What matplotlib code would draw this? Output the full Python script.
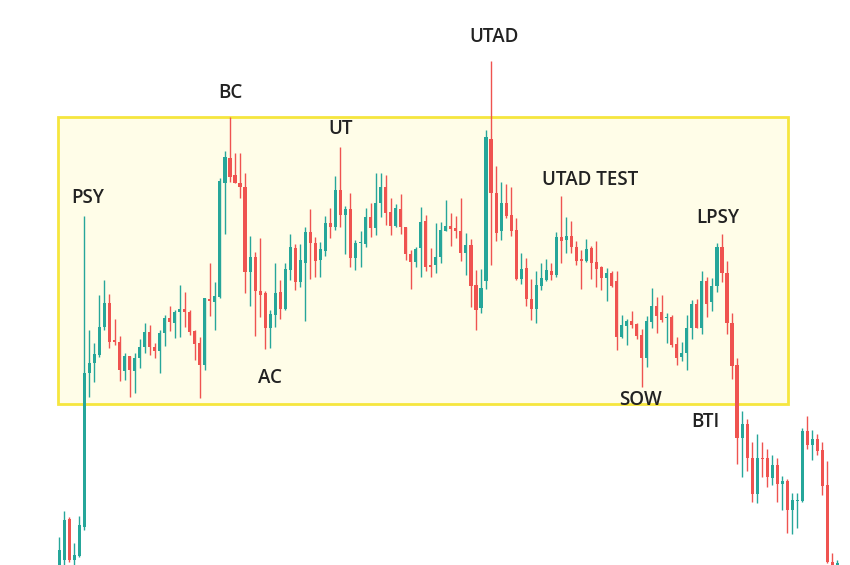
import numpy as np
import matplotlib.pyplot as plt
from matplotlib.patches import Rectangle

# ── OHLC data (arbitrary price units) ─────────────────────────────────────────
opens = [95, 105, 146, 105, 109, 138, 292, 302, 310, 338, 362, 325, 323, 294, 309, 294, 307, 318, 333, 318,
         314, 332, 347, 342, 353, 356, 353, 334, 322, 300, 366, 363, 368, 482, 507, 490, 482, 478, 393, 408,
         374, 372, 337, 350, 373, 356, 395, 417, 383, 402, 433, 422, 405, 414, 442, 438, 475, 450, 456, 407,
         422, 421, 448, 437, 462, 478, 453, 439, 456, 438, 411, 403, 417, 444, 400, 400, 408, 434, 439, 437,
         434, 412, 420, 380, 357, 384, 526, 472, 434, 462, 450, 435, 386, 397, 366, 356, 379, 385, 394, 390,
         428, 425, 429, 418, 406, 404, 417, 403, 398, 387, 392, 384, 328, 339, 344, 341, 330, 307, 343, 359,
         353, 347, 348, 321, 308, 312, 337, 361, 337, 384, 363, 379, 418, 392, 342, 300, 227, 241, 207, 171,
         207, 207, 187, 200, 181, 184, 155, 164, 164, 234, 220, 226, 215, 180, 103, 95]
highs = [128, 154, 148, 122, 149, 449, 335, 322, 370, 385, 371, 346, 329, 312, 309, 312, 326, 342, 340, 322,
         335, 350, 359, 355, 380, 373, 355, 335, 328, 367, 402, 383, 487, 514, 548, 512, 512, 492, 429, 413,
         427, 374, 355, 402, 385, 402, 431, 421, 421, 438, 456, 428, 423, 449, 457, 489, 518, 459, 472, 425,
         434, 457, 462, 492, 492, 490, 467, 461, 471, 438, 415, 418, 458, 450, 417, 442, 443, 465, 452, 449,
         467, 432, 426, 395, 396, 535, 604, 499, 483, 481, 478, 447, 412, 407, 386, 394, 402, 406, 402, 433,
         469, 448, 444, 424, 415, 426, 419, 424, 399, 397, 394, 394, 350, 346, 354, 342, 336, 349, 377, 368,
         370, 352, 350, 328, 323, 350, 365, 366, 394, 388, 387, 422, 431, 404, 352, 307, 254, 246, 223, 231,
         223, 216, 210, 207, 189, 186, 172, 172, 237, 249, 235, 231, 223, 204, 112, 105]
lows = [90, 100, 103, 99, 108, 135, 268, 283, 308, 335, 317, 320, 284, 285, 268, 272, 297, 312, 310, 307,
        292, 319, 334, 327, 328, 338, 330, 305, 267, 295, 349, 335, 367, 431, 483, 482, 467, 372, 359, 329,
        348, 316, 317, 338, 346, 355, 385, 375, 378, 344, 386, 388, 388, 409, 427, 435, 438, 411, 398, 395,
        398, 418, 428, 430, 448, 440, 430, 438, 431, 405, 376, 398, 388, 394, 388, 392, 402, 434, 419, 427,
        404, 390, 358, 335, 352, 376, 400, 424, 425, 447, 429, 385, 381, 359, 345, 342, 375, 384, 385, 388,
        402, 412, 412, 400, 376, 403, 386, 378, 375, 364, 378, 315, 327, 320, 337, 326, 278, 298, 337, 332,
        343, 322, 318, 300, 304, 295, 326, 337, 331, 348, 354, 373, 383, 331, 286, 201, 188, 194, 163, 162,
        188, 178, 180, 163, 155, 132, 131, 137, 163, 216, 205, 210, 170, 102, 95, 93]
closes = [115, 145, 105, 110, 140, 292, 302, 311, 338, 362, 323, 323, 295, 309, 295, 307, 318, 333, 318, 314,
          332, 347, 343, 353, 356, 353, 333, 321, 300, 367, 364, 369, 484, 508, 488, 482, 478, 393, 408, 374,
          370, 337, 351, 372, 356, 396, 418, 383, 405, 433, 422, 404, 416, 442, 438, 475, 450, 456, 407, 422,
          423, 448, 437, 462, 478, 452, 439, 457, 438, 411, 403, 416, 443, 398, 398, 408, 435, 439, 436, 434,
          412, 420, 379, 355, 377, 528, 472, 432, 462, 449, 434, 386, 396, 366, 356, 380, 387, 395, 390, 428,
          424, 429, 418, 404, 404, 416, 402, 396, 387, 392, 379, 328, 340, 344, 340, 329, 307, 344, 359, 349,
          345, 348, 320, 307, 312, 337, 361, 337, 384, 361, 379, 418, 392, 342, 299, 227, 241, 207, 171, 207,
          206, 188, 200, 181, 184, 155, 165, 165, 234, 220, 226, 214, 179, 103, 99, 102]

# Wyckoff phase labels: (text, candle index, price level)
labels = ["PSY", "BC", "AC", "UT", "UTAD", "UTAD TEST", "SOW", "LPSY", "BTI"]
label_x = [5.7, 34.0, 42.0, 56.1, 86.6, 105.7, 115.7, 131.2, 128.6]
label_y = [467, 572, 287, 536, 628, 485, 265, 447, 243]

# trading range box
range_low, range_high = 261, 548
range_start, range_end = -0.26, 145.2

UP = "#26a69a"
DOWN = "#ef5350"

# ── Plot ──────────────────────────────────────────────────────────────────────
fig = plt.figure(figsize=(8.5, 5.65), dpi=100)
ax = fig.add_axes([0, 0, 1, 1])

ax.add_patch(Rectangle((range_start, range_low), range_end - range_start, range_high - range_low,
                       facecolor="#fffde8", edgecolor="#f6e63e", linewidth=2.0, zorder=1))

o = np.array(opens); h = np.array(highs); l = np.array(lows); c = np.array(closes)
idx = np.arange(len(o))
colors = np.where(c >= o, UP, DOWN)

ax.vlines(idx, l, h, colors=colors, linewidth=1.0, zorder=2)
body = np.maximum(np.abs(c - o), 1.2)
ax.bar(idx, body, bottom=np.minimum(o, c), width=0.62, color=colors, linewidth=0, zorder=3)

for txt, x, y in zip(labels, label_x, label_y):
    ax.text(x, y, txt, ha="center", va="center", fontsize=13.5, fontweight="semibold",
            family=["Open Sans", "DejaVu Sans"], color="#222222", zorder=4)

ax.set_xlim(-11.81, 157.5)
ax.set_ylim(100, 665)
ax.axis("off")

plt.savefig("out.png", dpi=100, facecolor="white")
plt.close()
